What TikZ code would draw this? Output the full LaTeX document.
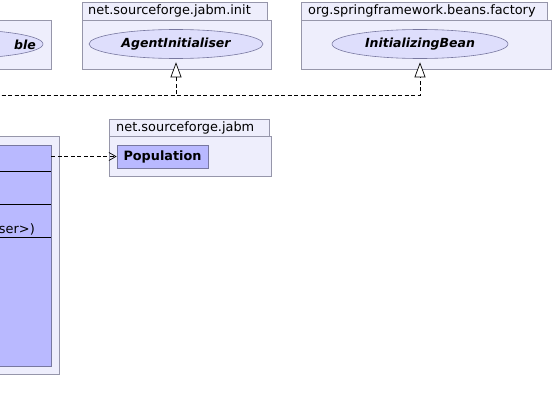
\documentclass[tikz,border=0pt]{standalone}
\usepackage{fontspec}
\setmainfont{DejaVu Sans}
\usetikzlibrary{arrows.meta,shapes.geometric,positioning}
\definecolor{pkgfill}{RGB}{238,238,252}
\definecolor{pkgline}{RGB}{150,150,170}
\definecolor{clsfill}{RGB}{185,185,255}
\definecolor{clsline}{RGB}{120,120,160}
\definecolor{ellfill}{RGB}{222,222,252}
\tikzset{
  pkgbox/.style={draw=pkgline, fill=pkgfill, line width=0.8pt},
  pkgtab/.style={draw=pkgline, fill=pkgfill, line width=0.8pt},
  pkglabel/.style={anchor=west, inner sep=0pt, font=\fontsize{12.9}{14}\selectfont},
  iface/.style={ellipse, draw=clsline, fill=ellfill, line width=0.6pt, inner sep=0pt,
    font=\fontsize{12.5}{14}\selectfont\bfseries\itshape},
  clsbox/.style={draw=clsline, fill=clsfill, line width=0.8pt, inner sep=0pt},
  clstext/.style={inner sep=0pt, font=\fontsize{12.9}{14}\selectfont},
  dep/.style={dash pattern=on 4pt off 2.5pt, line width=0.7pt, -{Straight Barb[length=7pt,width=8pt,line width=0.7pt]}},
  real/.style={dash pattern=on 4pt off 2.5pt, line width=0.7pt, -{Triangle[open,length=15pt,width=11pt,line width=0.7pt,fill=white]}}
}
\begin{document}
\begin{tikzpicture}[x=1pt,y=-1pt]
\useasboundingbox (0,0) rectangle (553,412);
\clip (0,0) rectangle (553,412);
% left package (cut)
\draw[pkgbox] (-200,20) rectangle (51,69);
\node[iface, minimum width=176pt, minimum height=29pt] (ser) at (-45,44) {};
\node[anchor=east, inner sep=0pt, font=\fontsize{12.5}{14}\selectfont\bfseries\itshape] (sertext) at (36,44.5) {ble};
% net.sourceforge.jabm.init
\draw[pkgtab] (82,2) rectangle (267,20);
\draw[pkgbox] (82,20) rectangle (271,69);
\node[pkglabel] (initlbl) at (88,11) {net.sourceforge.jabm.init};
\node[iface, minimum width=174pt, minimum height=29pt] (agent) at (176,44) {AgentInitialiser};
% org.springframework.beans.factory
\draw[pkgtab] (301,2) rectangle (547,20);
\draw[pkgbox] (301,20) rectangle (551,69);
\node[pkglabel] (beanlbl) at (308,11) {org.springframework.beans.factory};
\node[iface, minimum width=176pt, minimum height=29pt] (bean) at (420,44) {InitializingBean};
% realization connectors
\coordinate (lstart) at (-5,95);
\draw[real] (lstart) -| ([yshift=-3.5pt]agent.south);
\draw[real] (lstart) -| ([yshift=-3.5pt]bean.south);
% main class package (cut)
\draw[pkgbox] (-200,136) rectangle (59,374);
\node[clsbox, minimum width=251pt, minimum height=221pt] (main) at (-74.5,255.5) {};
\draw[line width=0.7pt] (-200,171.5) -- (51,171.5);
\draw[line width=0.7pt] (-200,204.5) -- (51,204.5);
\draw[line width=0.7pt] (-200,237) -- (51,237);
\node[clstext, anchor=east] (optext) at (35,229) {ser>)};
% net.sourceforge.jabm
\draw[pkgtab] (109,119) rectangle (269,136);
\draw[pkgbox] (109,136) rectangle (271,176);
\node[pkglabel] (jabmlbl) at (116,128) {net.sourceforge.jabm};
\node[clsbox, minimum width=91pt, minimum height=23pt, font=\fontsize{12.8}{14}\selectfont\bfseries] (pop) at (162.5,156.5) {Population};
% dependency
\draw[dep] (pop.west -| main.east) -- (pop.west);
\end{tikzpicture}
\end{document}
